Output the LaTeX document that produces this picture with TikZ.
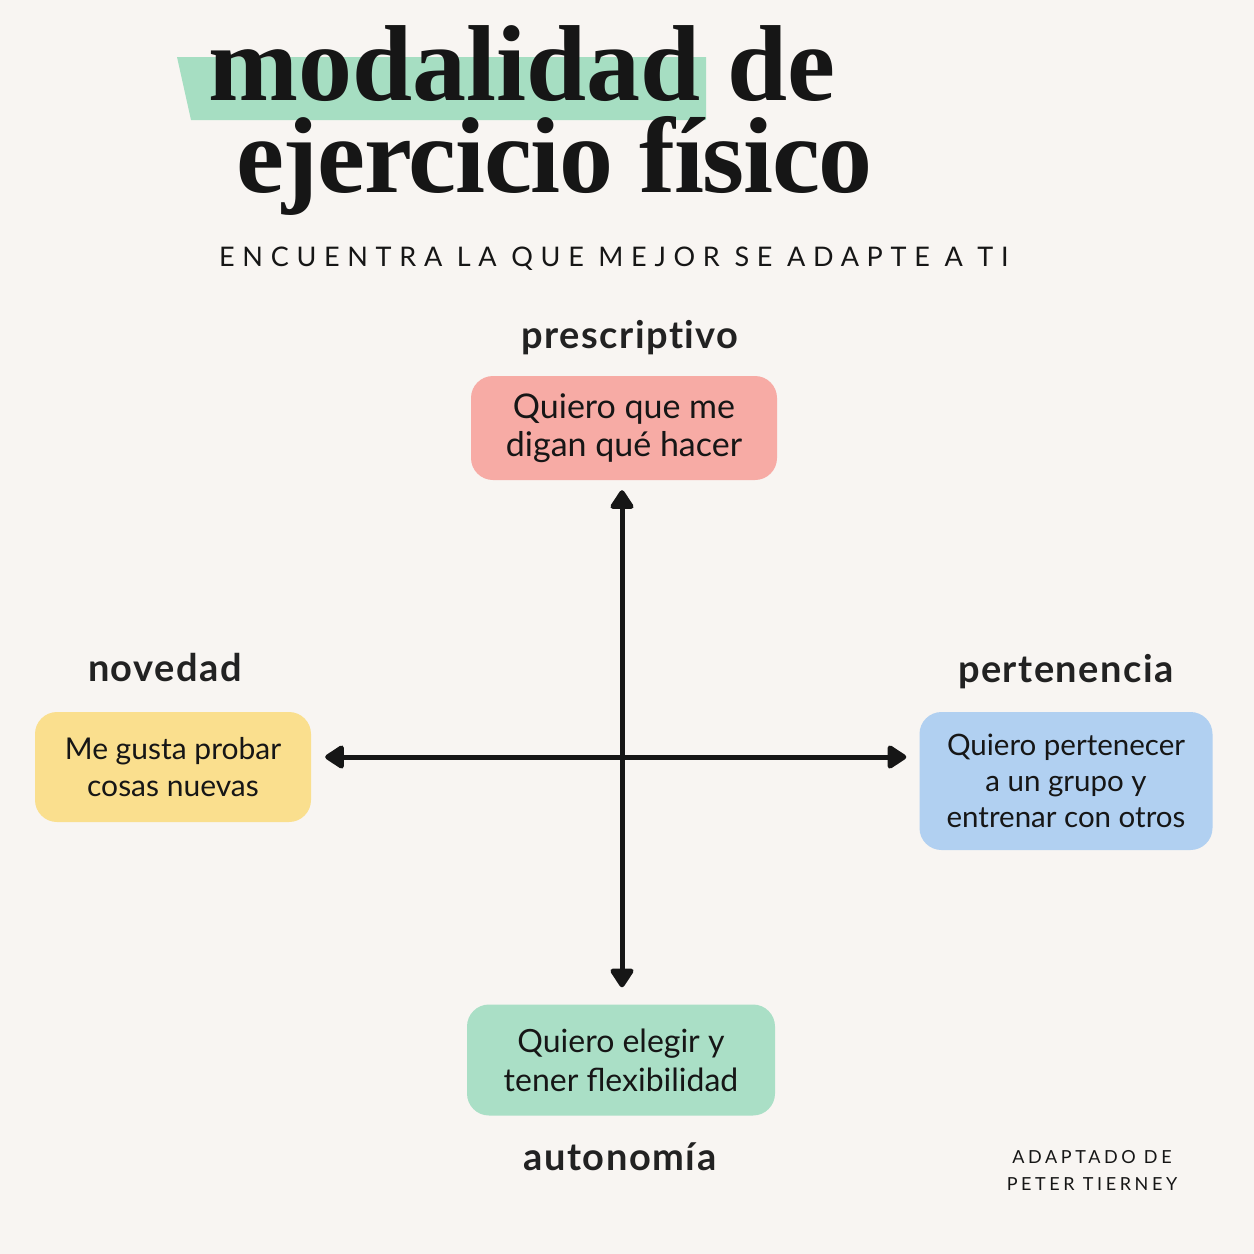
\documentclass[tikz,border=0pt]{standalone}
\usepackage{fontspec}
\setmainfont{Lato}
\newfontfamily\titlefont{Liberation Serif}
\newfontfamily\spacedfont[LetterSpace=28.5]{Lato}
\newfontfamily\footfont[LetterSpace=20]{Lato}
\newfontfamily\labelfont[LetterSpace=4,Ligatures=NoCommon]{Lato}
\usepackage{tikz}
\usetikzlibrary{arrows.meta}

\definecolor{paper}{HTML}{F8F5F2}
\definecolor{ink}{HTML}{161616}
\definecolor{mint}{HTML}{A6DEC2}
\definecolor{rosa}{HTML}{F7ABA5}
\definecolor{amarillo}{HTML}{FADF8E}
\definecolor{azul}{HTML}{B1D0F1}
\definecolor{verde}{HTML}{AADFC6}

\begin{document}
\begin{tikzpicture}[x=1pt, y=-1pt,
    caja/.style={rounded corners=22pt, align=center, inner sep=0pt, text=ink},
    eje/.style={font=\labelfont\bfseries\fontsize{38}{40}\selectfont, text=ink!95},
    flecha/.style={line width=5pt, ink, {Triangle[round,length=21pt,width=26pt]}-{Triangle[round,length=21pt,width=26pt]}}]
  \fill[paper] (0,0) rectangle (1254,1254);
  \useasboundingbox (0,0) rectangle (1254,1254);

  % titulo
  \fill[mint] (177,57) -- (706,57) -- (706,120) -- (191,120) -- cycle;
  \node[anchor=base west, inner sep=0pt, align=left, text=ink,
    font=\titlefont\bfseries\fontsize{108}{92}\selectfont] (tit) at (208,192)
    {modalidad de\\\hspace*{28pt}{\addfontfeature{LetterSpace=-1.2}ejercicio físico}};
  \node[anchor=base west, inner sep=0pt, font=\spacedfont\fontsize{27}{27}\selectfont, text=ink] (sub) at (219,266) {ENCUENTRA LA QUE MEJOR SE ADAPTE A TI};

  % cajas
  \node[caja, fill=rosa, minimum width=306pt, minimum height=104pt, font=\fontsize{34}{38}\selectfont] (pres) at (624,428) {Quiero que me\\digan qué hacer};
  \node[caja, fill=amarillo, minimum width=276pt, minimum height=110pt, font=\fontsize{30}{37}\selectfont] (nov) at (173,767) {Me gusta probar\\cosas nuevas};
  \node[caja, fill=azul, minimum width=293pt, minimum height=138pt, font=\fontsize{29.5}{36}\selectfont] (pert) at (1066,781) {Quiero pertenecer\\a un grupo y\\entrenar con otros};
  \node[caja, fill=verde, minimum width=308pt, minimum height=111pt, font=\fontsize{32}{39}\selectfont] (aut) at (621,1060) {Quiero elegir y\\tener flexibilidad};

  % etiquetas
  \node[eje] (presL) at (630,338) {prescriptivo};
  \node[eje] (novL) at (165,668) {novedad};
  \node[eje] (pertL) at (1066,672) {pertenencia};
  \node[eje] (autL) at (620,1157) {autonomía};

  % ejes
  \coordinate (o) at (622,757);
  \draw[flecha, shorten <=10pt, shorten >=17pt] (pres.south -| o) -- (aut.north -| o);
  \draw[flecha, shorten <=14pt, shorten >=13pt] (nov.east |- o) -- (pert.west |- o);

  \node[align=center, inner sep=0pt, text=ink, font=\footfont\fontsize{18}{27}\selectfont] (cred) at (1092,1170) {ADAPTADO DE\\PETER TIERNEY};
\end{tikzpicture}
\end{document}
